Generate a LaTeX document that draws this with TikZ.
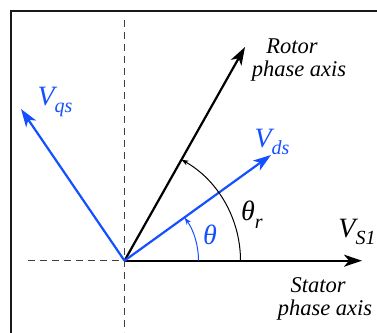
\documentclass[tikz,border=0pt]{standalone}
\usepackage{fontspec}
\setmainfont{Liberation Serif}
\usetikzlibrary{arrows.meta}
\definecolor{vblue}{RGB}{20,80,255}
\newcommand{\vsub}[2]{#1\raisebox{-0.28em}{\fontsize{20}{21}\selectfont #2}}
\tikzset{
  axisarrow/.style={line width=2.2pt,-{Stealth[length=18pt,width=12pt,inset=5pt]}},
  vecarrow/.style={line width=2.2pt,vblue,-{Stealth[length=18pt,width=12pt,inset=5pt]}},
  anglearc/.style={line width=1pt,-{Stealth[length=7pt,width=5pt,inset=2pt]}},
  guide/.style={line width=0.9pt,dash pattern=on 7pt off 5pt,black!75},
  lbl/.style={font=\fontsize{22.5}{23}\selectfont\itshape,align=center,inner sep=0pt},
  vlbl/.style={font=\fontsize{28}{29}\selectfont\itshape,inner sep=0pt}
}
\begin{document}
\begin{tikzpicture}[x=1pt,y=-1pt]
\useasboundingbox (0,0) rectangle (377,332);
\draw[line width=2pt,black!90] (11,340) -- (11,11) -- (385,11);
\coordinate (O) at (124.5,260.7);
\coordinate (vt) at (124.5,20);
\coordinate (vb) at (124.5,332);
\coordinate (hl) at (28,260.7);
\draw[guide] (vt) -- (vb);
\draw[guide] (hl) -- (O);
\coordinate (S) at (362,260.7);
\coordinate (R) at (245,47);
\coordinate (D) at (271,155);
\coordinate (Q) at (21,109);
\draw[axisarrow] (O) -- (S);
\draw[axisarrow] (O) -- (R);
\draw[vecarrow] (O) -- (D);
\draw[vecarrow] (O) -- (Q);
\draw[anglearc] ([xshift=116pt]O) arc[start angle=0,end angle=60.6,radius=116pt];
\draw[anglearc,vblue] ([xshift=74pt]O) arc[start angle=0,end angle=35.6,radius=74pt];
\node[lbl] (rl) at (299,60) {\hspace*{-14pt}Rotor\\phase axis};
\node[lbl] (sl) at (325,299) {\hspace*{-14pt}Stator\\phase axis};
\node[vlbl,vblue] (ql) at (55,102) {\vsub{V}{qs}};
\node[vlbl,vblue] (dl) at (272,142) {\vsub{V}{ds}};
\node[vlbl] (s1) at (357,232) {\vsub{V}{S1}};
\node[vlbl] (tr) at (252,215) {\vsub{θ}{r}};
\node[vlbl,vblue] (th) at (210,235) {θ};
\end{tikzpicture}
\end{document}
